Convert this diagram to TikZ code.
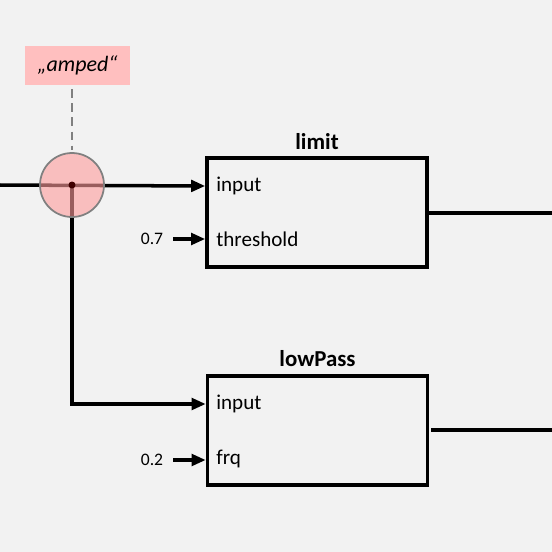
\documentclass[tikz,border=0pt]{standalone}
\usepackage{fontspec}
\setmainfont{Carlito}
\usetikzlibrary{arrows.meta}
\definecolor{bggray}{HTML}{F2F2F2}
\definecolor{tagpink}{HTML}{FFBFBF}
\definecolor{tappink}{HTML}{FF9C9C}
\tikzset{
  block/.style={draw, line width=2pt, fill=bggray, minimum width=4.4cm, minimum height=2.18cm, inner sep=0pt},
  port/.style={anchor=west, inner sep=0pt, font=\fontsize{12}{14}\selectfont},
  title/.style={font=\bfseries\fontsize{13}{15}\selectfont},
  val/.style={inner sep=0pt, font=\fontsize{10}{12}\selectfont},
  wire/.style={line width=2pt, -{Triangle[length=8pt,width=6.5pt]}},
}
\begin{document}
\begin{tikzpicture}[x=0.02cm, y=-0.02cm]
\fill[bggray] (0,0) rectangle (552,552);
\useasboundingbox (0,0) rectangle (552,552);
% blocks
\node[block] (limit) at (317,212.5) {};
\node[title] (limitT) at (317,142) {limit};
\node[port] (lin) at (216,186) {input};
\node[port] (thr) at (216,239) {threshold};
\node[val] (v07) at (152,239) {0.7};
\node[block] (low) at (317.5,430.5) {};
\node[title] (lowT) at (317.5,359) {lowPass};
\node[port] (pin) at (216,404) {input};
\node[port] (frq) at (216,459) {frq};
\node[val] (v02) at (152,460) {0.2};
% tag
\node[fill=tagpink, minimum width=2.1cm, minimum height=0.78cm, font=\itshape\fontsize{12.5}{14}\selectfont] (tag) at (77.5,65.5) {„amped“};
\coordinate (src) at (0,185);
\coordinate (tap) at (72,185);
\coordinate (bend) at (72,404);
\coordinate (out1) at (552,213);
\coordinate (out2) at (552,430);
\draw[gray, line width=1pt, dash pattern=on 5pt off 3pt] (tag.south) ++(-5.5,4) -- (72,150);
\draw[wire] (src) -- (limit.west |- lin);
\draw[wire] (tap) -- (bend) -- (low.west |- pin);
\draw[wire] (v07) ++(21,0) -- (limit.west |- thr);
\draw[wire] (v02) ++(21,0) -- (low.west |- v02);
\draw[line width=2pt] (limit.east |- out1) -- (out1);
\draw[line width=2pt] (431,430) -- (out2);
\node[circle, draw=gray, line width=1pt, fill=tappink, fill opacity=0.6, minimum size=1.28cm] (tapc) at (tap) {};
\fill[black!75!red] (tap) circle (3.5);
\end{tikzpicture}
\end{document}
